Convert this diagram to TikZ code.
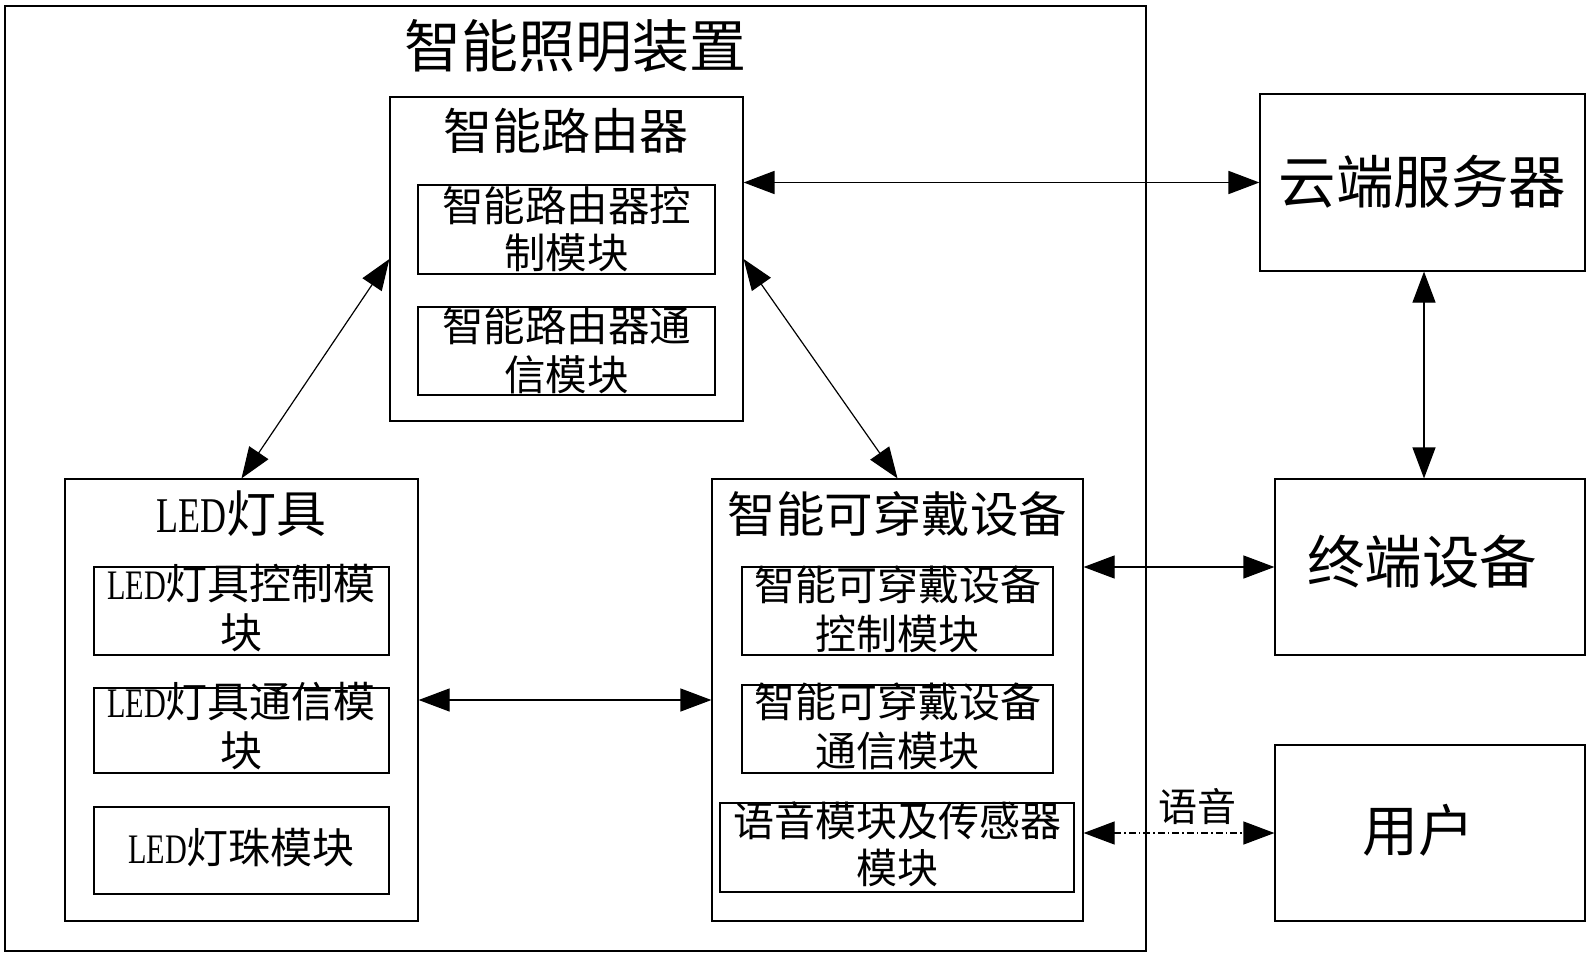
\documentclass[tikz,border=0pt]{standalone}
\usepackage{fontspec}
\setmainfont{Noto Sans CJK SC}
\newfontfamily\lat[FakeStretch=0.72]{Liberation Serif}
\usetikzlibrary{arrows.meta,calc}
\newcommand{\myfs}[1]{\fontsize{#1}{#1}\selectfont}
\begin{document}
\begin{tikzpicture}[x=1pt,y=-1pt,
  box/.style={draw,line width=1.2pt,rectangle,inner sep=0pt},
  txt/.style={inner sep=0pt,anchor=center},
  biarrow/.style={line width=1.2pt,{Triangle[length=31pt,width=23pt]}-{Triangle[length=31pt,width=23pt]}},
  dashdot/.style={dash pattern=on 7pt off 3pt on 1.5pt off 3pt}
]
\useasboundingbox (0,0) rectangle (1587,955);
% boxes
\node[box,minimum width=1141pt,minimum height=945pt] (outer) at (575.5,478.5) {};
\node[box,minimum width=353pt,minimum height=324pt] (router) at (566.5,259) {};
\node[box,minimum width=297pt,minimum height=89pt] (rctl) at (566.5,229.5) {};
\node[box,minimum width=297pt,minimum height=88pt] (rcom) at (566.5,351) {};
\node[box,minimum width=353pt,minimum height=442pt] (led) at (241.5,700) {};
\node[box,minimum width=295pt,minimum height=88pt] (lctl) at (241.5,611) {};
\node[box,minimum width=295pt,minimum height=85pt] (lcom) at (241.5,730.5) {};
\node[box,minimum width=295pt,minimum height=87pt] (lbead) at (241.5,850.5) {};
\node[box,minimum width=371pt,minimum height=442pt] (wear) at (897.5,700) {};
\node[box,minimum width=311pt,minimum height=88pt] (wctl) at (897.5,611) {};
\node[box,minimum width=311pt,minimum height=88pt] (wcom) at (897.5,729) {};
\node[box,minimum width=354pt,minimum height=89pt] (voice) at (897,847.5) {};
\node[box,minimum width=325pt,minimum height=177pt] (cloud) at (1422.5,182.5) {};
\node[box,minimum width=310pt,minimum height=176pt] (term) at (1430,567) {};
\node[box,minimum width=310pt,minimum height=176pt] (user) at (1430,833) {};
% texts
\node[txt] (ttitle) at (575,46) {\myfs{57}智能照明装置};
\node[txt] (trouter) at (566,131) {\myfs{49}智能路由器};
\node[txt] (trctl1) at (566.5,205.5) {\myfs{41.5}智能路由器控};
\node[txt] (trctl2) at (566.5,253) {\myfs{41.5}制模块};
\node[txt] (trcom1) at (566.5,326) {\myfs{41.5}智能路由器通};
\node[txt] (trcom2) at (566.5,374.5) {\myfs{41.5}信模块};
\node[txt] (tled) at (241.5,514) {\myfs{50}{\lat LED}灯具};
\node[txt] (tlctl1) at (241.5,584) {\myfs{42}{\lat LED}灯具控制模};
\node[txt] (tlctl2) at (241.5,632.5) {\myfs{42}块};
\node[txt] (tlcom1) at (241.5,702) {\myfs{42}{\lat LED}灯具通信模};
\node[txt] (tlcom2) at (241.5,751) {\myfs{42}块};
\node[txt] (tlbead) at (241.5,848) {\myfs{42}{\lat LED}灯珠模块};
\node[txt] (twear) at (897.5,514) {\myfs{48.5}智能可穿戴设备};
\node[txt] (twctl1) at (897.5,585) {\myfs{41}智能可穿戴设备};
\node[txt] (twctl2) at (897.5,633.5) {\myfs{41}控制模块};
\node[txt] (twcom1) at (897.5,702) {\myfs{41}智能可穿戴设备};
\node[txt] (twcom2) at (897.5,751) {\myfs{41}通信模块};
\node[txt] (tvoice1) at (897,821) {\myfs{41}语音模块及传感器};
\node[txt] (tvoice2) at (897,868) {\myfs{41}模块};
\node[txt] (tcloud) at (1422.5,182) {\myfs{57.5}云端服务器};
\node[txt] (tterm) at (1422,562) {\myfs{57.5}终端设备};
\node[txt] (tuser) at (1418,830) {\myfs{56}用户};
\node[txt] (tvlabel) at (1197,807) {\myfs{39}语音};
% connectors
\draw[biarrow,line width=1.8pt] (router.east |- cloud.west) -- (cloud.west);
\draw[biarrow] (router.west) -- (led.north);
\draw[biarrow] (router.east) -- (wear.north);
\draw[biarrow] (cloud.south -| 1424,0) -- (term.north -| 1424,0);
\draw[biarrow] (wear.east |- term.west) -- (term.west);
\draw[biarrow] (led.east) -- (wear.west);
\draw[biarrow,dashdot] (wear.east |- user.west) -- (user.west);
\end{tikzpicture}
\end{document}
